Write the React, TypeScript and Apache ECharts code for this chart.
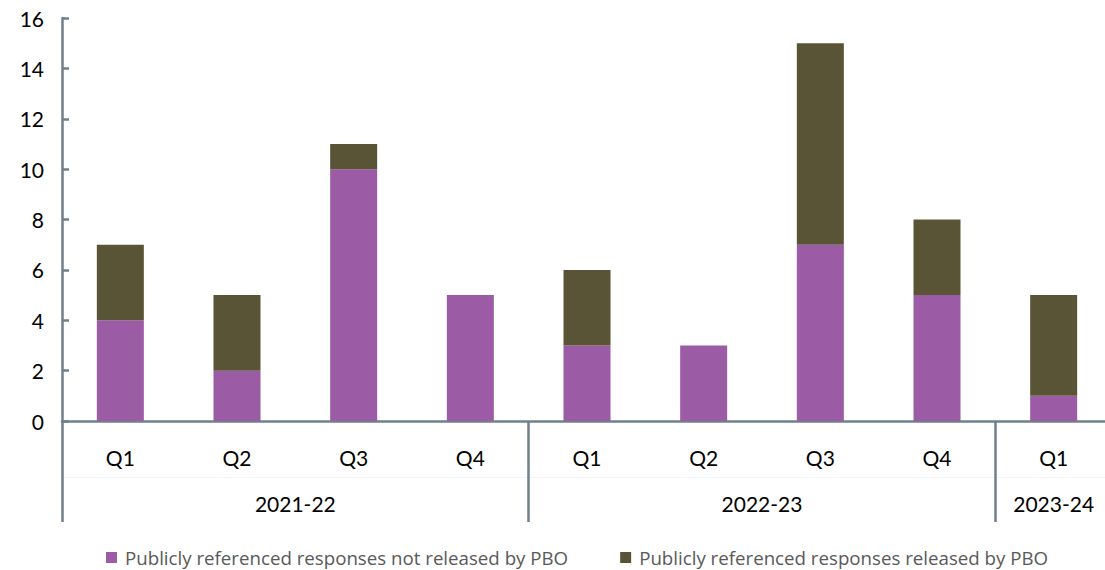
import React, { useEffect, useRef } from "react";
import * as echarts from "echarts";

const quarters = ["Q1", "Q2", "Q3", "Q4", "Q1", "Q2", "Q3", "Q4", "Q1"];
const years = ["2021-22", "2022-23", "2023-24"];
const yearSpans = [4, 4, 1];
const notReleased = [4, 2, 10, 5, 3, 3, 7, 5, 1];
const released = [3, 3, 1, 0, 3, 0, 8, 3, 4];
const seriesNames = [
  "Publicly referenced responses not released by PBO",
  "Publicly referenced responses released by PBO",
];
const yTicks = { min: 0, max: 16, interval: 2 };

export default function App() {
  const ref = useRef<HTMLDivElement>(null);
  useEffect(() => {
    if (!ref.current) return;
    const chart = echarts.init(ref.current, undefined, { renderer: "svg" });
    const axisColor = "#6F808B";
    const font = "Lato, 'Noto Sans', sans-serif";

    const boundaries: number[] = [];
    const centers: number[] = [];
    let acc = 0;
    yearSpans.forEach((s) => {
      boundaries.push(acc);
      centers.push(acc + s / 2);
      acc += s;
    });

    chart.setOption({
      animation: false,
      grid: { left: 62, top: 18, height: 403, width: 1050 },
      legend: {
        left: 106,
        top: 548,
        padding: 0,
        icon: "rect",
        itemWidth: 11,
        itemHeight: 11,
        itemGap: 52,
        textStyle: {
          color: "#595959",
          fontSize: 18.7,
          fontFamily: "'Open Sans', sans-serif",
          padding: [0, 0, 0, 3],
        },
        data: seriesNames,
      },
      xAxis: [
        {
          type: "category",
          data: quarters,
          position: "bottom",
          axisLine: { show: true, lineStyle: { color: axisColor, width: 2.5 } },
          axisTick: {
            show: true,
            alignWithLabel: false,
            interval: (i: number) => boundaries.includes(i),
            length: 101,
            lineStyle: { color: axisColor, width: 2.5 },
          },
          axisLabel: {
            color: "#000",
            fontSize: 21,
            fontFamily: font,
            margin: 26,
            interval: 0,
          },
        },
        {
          type: "value",
          position: "bottom",
          min: 0,
          max: acc,
          interval: 0.5,
          offset: 56,
          axisLine: { show: true, lineStyle: { color: "#F2F4F6", width: 1 } },
          axisTick: { show: false },
          splitLine: { show: false },
          axisLabel: {
            color: "#000",
            fontSize: 21,
            fontFamily: font,
            margin: 16,
            formatter: (v: number) => {
              const k = centers.findIndex((c) => Math.abs(c - v) < 1e-6);
              return k >= 0 ? years[k] : "";
            },
          },
        },
      ],
      yAxis: {
        type: "value",
        min: yTicks.min,
        max: yTicks.max,
        interval: yTicks.interval,
        axisLine: { show: true, lineStyle: { color: axisColor, width: 2.5 } },
        axisTick: { show: true, inside: true, length: 7, lineStyle: { color: axisColor, width: 2.5 } },
        splitLine: { show: false },
        axisLabel: { color: "#000", fontSize: 21, fontFamily: font, margin: 18 },
      },
      series: [
        {
          name: seriesNames[0],
          type: "bar",
          stack: "total",
          data: notReleased,
          barWidth: 47,
          itemStyle: { color: "#9B5BA5" },
        },
        {
          name: seriesNames[1],
          type: "bar",
          stack: "total",
          data: released,
          barWidth: 47,
          itemStyle: { color: "#5A5436" },
        },
      ],
    });
    return () => chart.dispose();
  }, []);
  return (
    <div
      style={{ position: "fixed", left: 0, top: 0, width: 1105, height: 570, overflow: "hidden", background: "#fff" }}
    >
      <div ref={ref} style={{ width: 1125, height: 570 }} />
    </div>
  );
}
